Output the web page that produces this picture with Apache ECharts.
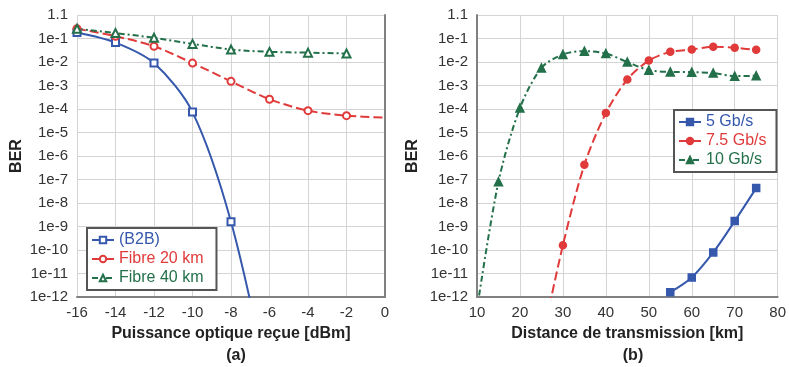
<!DOCTYPE html>
<html>
<head>
<meta charset="utf-8">
<script src="https://cdn.jsdelivr.net/npm/echarts@6/dist/echarts.min.js"></script>
<style>
  html, body { margin: 0; padding: 0; background: #fff; }
  #chart { width: 789px; height: 367px; }
</style>
</head>
<body>
<div id="chart"></div>
<script>
// (a) BER vs received optical power
var powerB2B = [-16, -14, -12, -10, -8, -6]
var berB2B = [0.18, 0.067, 9e-3, 7.4e-5, 1.6e-9, 1e-16]
var power20 = [-16, -14, -12, -10, -8, -6, -4, -2, 0]
var ber20 = [0.26, 0.125, 0.047, 9e-3, 1.5e-3, 2.6e-4, 8.5e-5, 5.2e-5, 4.3e-5]
var power40 = [-16, -14, -12, -10, -8, -6, -4, -2]
var ber40 = [0.26, 0.17, 0.107, 0.059, 0.034, 0.027, 0.025, 0.023]

// (b) BER vs transmission distance
var dist5 = [55, 60, 65, 70, 75]
var ber5 = [1.6e-12, 6.8e-12, 7.9e-11, 1.7e-9, 4.3e-8]
var dist75 = [25, 30, 35, 40, 45, 50, 55, 60, 65, 70, 75]
var ber75 = [1e-14, 1.6e-10, 4.2e-7, 6.7e-5, 1.8e-3, 1.15e-2, 0.027, 0.034, 0.045, 0.040, 0.033]
var dist10 = [10, 15, 20, 25, 30, 35, 40, 45, 50, 55, 60, 65, 70, 75]
var ber10 = [3e-13, 8e-8, 1.1e-4, 5.6e-3, 0.021, 0.029, 0.023, 0.010, 4.5e-3, 3.8e-3, 3.7e-3, 3.4e-3, 2.5e-3, 2.6e-3]

var labelsA = ['(B2B)', 'Fibre 20 km', 'Fibre 40 km']
var labelsB = ['5 Gb/s', '7.5 Gb/s', '10 Gb/s']

var blue = '#3558ad'
var red = '#e03a3a'
var green = '#23704a'
var font = 'Liberation Sans, Arial, sans-serif'

function pairs (xs, ys) {
  return xs.map(function (x, i) {
    return [x, ys[i]]
  })
}

function berLabel (v) {
  var e = Math.round(Math.log10(v))
  if (e === 0) return '1.1'
  return '1e' + e
}

function yAxisOf (gridIndex, gap) {
  return {
    gridIndex: gridIndex,
    type: 'log',
    logBase: 10,
    min: 1e-12,
    max: 1,
    interval: 1,
    name: 'BER',
    nameLocation: 'middle',
    nameGap: gap,
    nameTextStyle: { fontFamily: font, fontSize: 16, fontWeight: 'bold', color: '#222' },
    axisLine: { show: true, lineStyle: { color: '#808080', width: 2 } },
    axisTick: { show: false },
    axisLabel: { fontFamily: font, fontSize: 15, color: '#333', margin: 9, formatter: berLabel },
    splitLine: { show: true, lineStyle: { color: '#d4d4d4', width: 1 } }
  }
}

function xAxisOf (gridIndex, min, max, interval, name) {
  return {
    gridIndex: gridIndex,
    type: 'value',
    min: min,
    max: max,
    interval: interval,
    name: name,
    nameLocation: 'middle',
    nameGap: 29,
    nameTextStyle: { fontFamily: font, fontSize: 16, fontWeight: 'bold', color: '#222' },
    axisLine: { show: true, onZero: false, lineStyle: { color: '#808080', width: 2 } },
    axisTick: { show: false },
    axisLabel: { fontFamily: font, fontSize: 15, color: '#333', margin: 8 },
    splitLine: { show: true, lineStyle: { color: '#d4d4d4', width: 1 } }
  }
}

function lineSeries (name, xi, data, color, dash, symbol, size) {
  return {
    name: name,
    type: 'line',
    xAxisIndex: xi,
    yAxisIndex: xi,
    data: data,
    smooth: 0.3,
    symbol: symbol,
    symbolSize: size,
    clip: true,
    lineStyle: { color: color, width: 2, type: dash },
    itemStyle: { color: color, borderColor: color, borderWidth: 1.5 },
    z: 3
  }
}

var chart = echarts.init(document.getElementById('chart'))

// last point of the 20 km curve only continues the line to the axis edge
var data20 = pairs(power20, ber20)
data20[data20.length - 1] = { value: data20[data20.length - 1], symbol: 'none' }

var legendBase = {
  orient: 'vertical',
  itemWidth: 22,
  itemHeight: 8,
  itemGap: 3,
  backgroundColor: '#fff',
  borderColor: '#555',
  borderWidth: 2,
  textStyle: { fontFamily: font, fontSize: 16 }
}

var option = {
  animation: false,
  backgroundColor: '#fff',
  title: [
    { text: '(a)', left: 231, top: 343, textAlign: 'center',
      textStyle: { fontFamily: font, fontSize: 16, fontWeight: 'bold', color: '#222' } },
    { text: '(b)', left: 628, top: 343, textAlign: 'center',
      textStyle: { fontFamily: font, fontSize: 16, fontWeight: 'bold', color: '#222' } }
  ],
  grid: [
    { left: 77, top: 15, width: 308, height: 282 },
    { left: 477, top: 15, width: 303, height: 282 }
  ],
  legend: [
    Object.assign({}, legendBase, {
      data: [
        { name: labelsA[0], textStyle: { color: blue } },
        { name: labelsA[1], textStyle: { color: red } },
        { name: labelsA[2], textStyle: { color: green } }
      ],
      left: 87,
      top: 228,
      padding: [4, 13, 4, 4]
    }),
    Object.assign({}, legendBase, {
      data: [
        { name: labelsB[0], textStyle: { color: blue } },
        { name: labelsB[1], textStyle: { color: red } },
        { name: labelsB[2], textStyle: { color: green } }
      ],
      left: 674,
      top: 110,
      padding: [4, 10, 4, 4]
    })
  ],
  xAxis: [
    xAxisOf(0, -16, 0, 2, 'Puissance optique reçue [dBm]'),
    xAxisOf(1, 10, 80, 10, 'Distance de transmission [km]')
  ],
  yAxis: [yAxisOf(0, 52), yAxisOf(1, 56)],
  series: [
    lineSeries(labelsA[0], 0, pairs(powerB2B, berB2B), blue, 'solid', 'emptyRect', 7),
    lineSeries(labelsA[1], 0, data20, red, [9, 4], 'emptyCircle', 7),
    lineSeries(labelsA[2], 0, pairs(power40, ber40), green, [6, 3, 2, 3], 'emptyTriangle', 8),
    lineSeries(labelsB[0], 1, pairs(dist5, ber5), blue, 'solid', 'rect', 7),
    lineSeries(labelsB[1], 1, pairs(dist75, ber75), red, [9, 4], 'circle', 7),
    lineSeries(labelsB[2], 1, pairs(dist10, ber10), green, [6, 3, 2, 3], 'triangle', 8)
  ]
}

chart.setOption(option)
</script>
</body>
</html>
